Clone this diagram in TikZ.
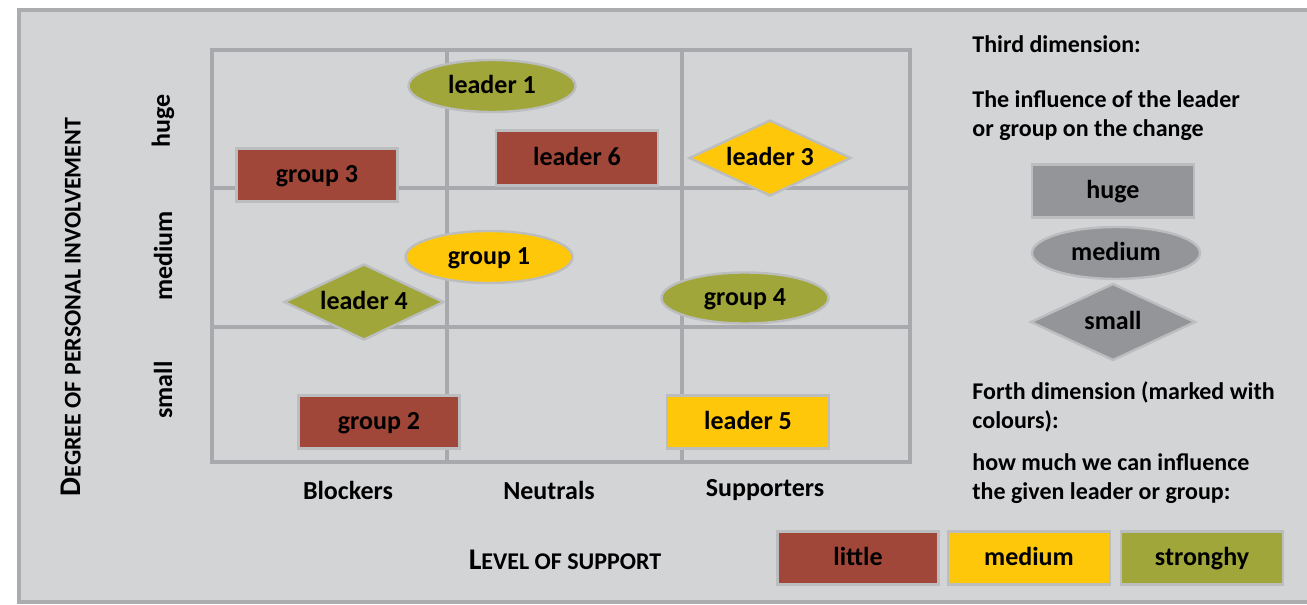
\documentclass[tikz,border=0pt]{standalone}
\usepackage{fontspec}
\setmainfont{Carlito}
\usetikzlibrary{shapes.geometric,positioning}

\definecolor{bgpanel}{HTML}{D3D4D6}
\definecolor{panelline}{HTML}{ABACAE}
\definecolor{gridline}{HTML}{A7A9AC}
\definecolor{shapeline}{HTML}{BBBDBF}
\definecolor{littlered}{HTML}{A1473A}
\definecolor{mediumyellow}{HTML}{FFC709}
\definecolor{strongolive}{HTML}{A0A63A}
\definecolor{legendgray}{HTML}{939598}

\newcommand{\axiscaps}[2]{{\fontsize{15}{18}\selectfont #1}{\fontsize{12}{14}\selectfont #2}}

\tikzset{
  lbl/.style={font=\bfseries\fontsize{13}{15.6}\selectfont},
  legtext/.style={font=\bfseries\fontsize{12}{14.5}\selectfont, align=left, anchor=west, inner sep=0pt},
  shapetext/.style={lbl, text height=9.5pt, text depth=2.5pt},
  hugebox/.style={shapetext, rectangle, draw=shapeline, line width=1.2pt, minimum width=80.5pt, minimum height=26.5pt, inner sep=0pt},
  medoval/.style={shapetext, ellipse, draw=shapeline, line width=1.2pt, minimum width=83.5pt, minimum height=26pt, inner sep=0pt},
  smallrhomb/.style={shapetext, diamond, aspect=2.1, draw=shapeline, line width=1.2pt, minimum width=81pt, minimum height=38pt, inner sep=0pt},
  gridrule/.style={draw=gridline, line width=2pt},
}

\begin{document}
\begin{tikzpicture}[x=0.5pt, y=-0.5pt]
  \useasboundingbox (0,0) rectangle (1307,605);
  % panel
  \fill[bgpanel] (19,10) rectangle (1307,602);
  \draw[panelline, line width=2pt] (1307,10) -- (19,10) -- (19,602) -- (1307,602);

  % matrix
  \draw[gridrule] (212,50) rectangle (910,462);
  \draw[gridrule] (447,50) -- (447,462);
  \draw[gridrule] (682,50) -- (682,462);
  \draw[gridrule] (212,188) -- (910,188);
  \draw[gridrule] (212,327) -- (910,327);

  % axes
  \node[lbl, rotate=90] (huge) at (163,121) {huge};
  \node[lbl, rotate=90] (medium) at (163,256) {medium};
  \node[lbl, rotate=90] (small) at (163,390) {small};
  \node[lbl, rotate=90] (degree) at (71,307) {\axiscaps{D}{EGREE OF PERSONAL INVOLVEMENT}};
  \node[lbl] (blockers) at (348,490) {Blockers};
  \node[lbl] (neutrals) at (549,490) {Neutrals};
  \node[lbl] (supporters) at (765,490) {Supporters};
  \node[lbl] (level) at (565,560) {\axiscaps{L}{EVEL OF SUPPORT}};

  % leaders and groups
  \node[medoval, fill=strongolive] (leader1) at (492,86) {leader 1};
  \node[hugebox, fill=littlered, minimum width=81pt, minimum height=27.5pt] (leader6) at (577,158) {leader 6};
  \node[hugebox, fill=littlered] (group3) at (317,175) {group 3};
  \node[smallrhomb, fill=mediumyellow] (leader3) at (770,158) {leader 3};
  \node[medoval, fill=mediumyellow] (group1) at (489,257) {group 1};
  \node[smallrhomb, fill=strongolive, minimum width=80pt] (leader4) at (364,302) {leader 4};
  \node[medoval, fill=strongolive, minimum height=25.5pt] (group4) at (745,298) {group 4};
  \node[hugebox, fill=littlered] (group2) at (379,422) {group 2};
  \node[hugebox, fill=mediumyellow, minimum width=81pt] (leader5) at (748,422) {leader 5};

  % third dimension
  \node[legtext] (third) at (972,44) {Third dimension:};
  \node[legtext] (influence) at (972,115.5) {The influence of the leader\\or group on the change};
  \node[hugebox, fill=legendgray, minimum width=81pt] (lghuge) at (1113,191) {huge};
  \node[medoval, fill=legendgray, minimum width=84pt] (lgmedium) at (1116,253) {medium};
  \node[smallrhomb, fill=legendgray, minimum width=82.5pt, minimum height=38.5pt] (lgsmall) at (1113,322) {small};

  % forth dimension
  \node[legtext] (forth) at (972,406.5) {Forth dimension (marked with\\colours):};
  \node[legtext] (howmuch) at (972,478.5) {how much we can influence\\the given leader or group:};
  \node[hugebox, fill=littlered] (little) at (858,558) {little};
  \node[hugebox, fill=mediumyellow, minimum width=81pt] (lgyellow) at (1029,558) {medium};
  \node[hugebox, fill=strongolive, minimum width=81pt] (stronghy) at (1202,558) {stronghy};
\end{tikzpicture}
\end{document}
